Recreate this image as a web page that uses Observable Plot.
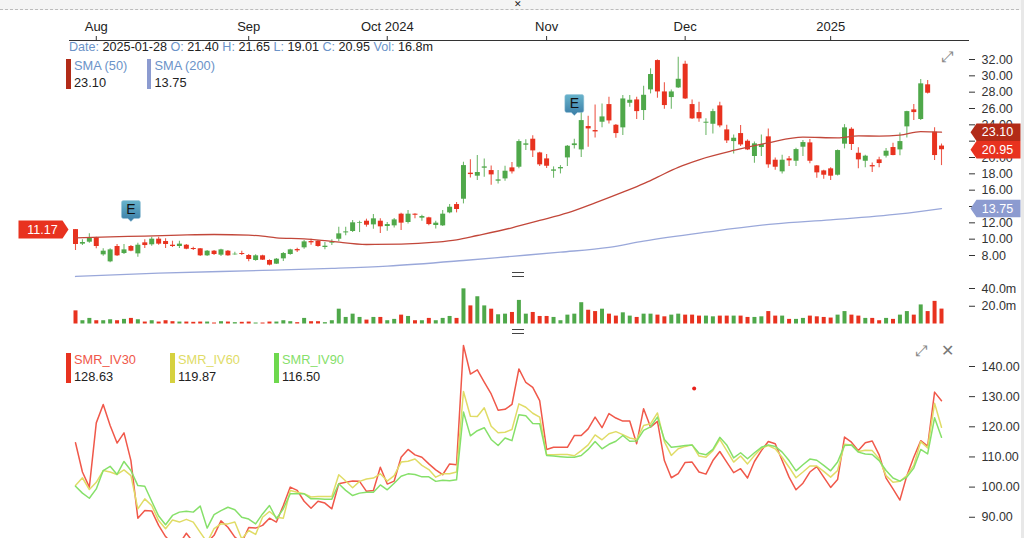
<!DOCTYPE html>
<html><head><meta charset="utf-8">
<script src="https://cdn.jsdelivr.net/npm/d3@7"></script>
<script src="https://cdn.jsdelivr.net/npm/@observablehq/plot@0.6"></script>
<style>
html,body{margin:0;padding:0;background:#fff;overflow:hidden;width:1024px;height:538px;font-family:"Liberation Sans",Arial,sans-serif}
#page{position:relative;width:1024px;height:538px;overflow:hidden}
#page svg{position:absolute;left:0;background:transparent}
.t{position:absolute;white-space:pre;line-height:1;transform:translateY(-50%)}
.b{position:absolute}
</style></head><body><div id="page"></div>
<script>
const tickIdx=[3,25,45,68,88,109];
const tickLabels=["Aug","Sep","Oct 2024","Nov","Dec","2025"];
const open=[11.17,9.39,9.63,10.16,8.08,7.22,9.10,8.24,9.10,8.20,9.55,9.31,10.00,9.71,9.26,9.10,9.26,8.86,8.82,7.96,8.53,8.04,8.53,8.08,8.24,8.00,7.39,7.96,7.39,6.94,7.59,8.12,8.73,8.94,9.71,9.75,8.98,9.51,9.99,10.77,10.94,11.96,12.20,11.75,12.20,11.55,11.63,13.06,12.04,13.06,12.57,12.61,11.67,11.63,13.22,14.24,14.89,18.08,17.71,18.69,18.40,17.10,17.38,18.73,18.81,21.50,22.24,20.56,19.83,18.32,18.61,19.95,21.46,20.93,23.79,23.30,24.32,26.48,23.95,23.63,26.64,27.05,25.75,28.28,31.87,28.03,27.34,28.52,31.42,26.48,25.50,24.20,24.07,26.32,23.38,21.95,22.93,21.99,20.12,21.22,22.53,19.67,18.24,19.83,19.54,21.26,21.79,18.97,18.36,18.61,17.83,21.63,23.46,20.52,19.54,19.01,19.71,20.16,21.22,20.93,23.75,25.83,24.65,28.90,23.10,21.40];
const high=[11.17,9.92,10.65,10.24,8.82,8.82,9.35,9.35,9.22,9.51,9.92,10.24,10.24,10.04,9.75,9.75,9.35,9.02,8.86,8.61,8.61,8.77,8.61,8.41,8.53,8.12,8.08,8.04,7.47,7.63,8.37,8.77,8.90,9.84,10.00,9.84,9.59,9.92,11.47,11.47,12.28,12.20,12.45,13.02,12.49,12.04,12.53,13.18,13.51,13.10,12.93,12.69,12.20,13.51,14.24,14.49,19.42,19.71,20.24,19.83,18.97,18.40,18.93,19.38,22.16,22.16,22.65,20.65,20.36,18.85,19.01,21.46,22.24,25.54,25.05,26.44,26.56,27.38,24.03,27.58,27.58,27.38,28.73,30.86,31.95,29.14,28.28,32.28,31.79,27.05,26.77,24.73,25.91,26.77,23.95,22.77,23.91,22.16,21.91,22.77,23.50,19.95,20.28,20.12,21.14,22.08,22.20,19.01,18.44,18.73,20.93,24.03,23.63,21.18,20.28,19.34,20.03,21.10,21.75,23.01,25.66,26.48,29.55,29.43,23.63,21.65];
const low=[8.61,9.22,9.51,8.82,7.92,7.10,7.88,8.12,8.45,7.80,8.86,9.14,9.26,8.86,8.98,8.86,8.69,8.61,7.88,7.88,8.00,7.88,7.92,8.04,8.00,7.22,7.31,7.39,6.73,6.90,7.26,8.04,8.37,8.77,9.26,9.02,8.69,9.22,9.71,10.41,10.81,10.81,11.47,11.22,10.69,10.98,11.38,11.06,11.87,12.49,12.20,11.63,11.26,11.55,13.10,13.22,14.32,17.50,17.18,17.59,16.61,16.77,17.10,17.99,18.61,20.85,20.00,18.89,18.65,17.46,17.99,18.89,21.05,20.00,21.26,22.40,23.63,24.11,22.36,22.69,26.15,24.64,24.52,27.79,27.26,25.91,25.91,28.44,27.09,24.64,24.32,22.69,22.89,23.63,21.71,20.44,21.34,20.85,19.30,20.12,18.69,18.44,17.99,18.89,18.89,20.12,19.22,17.46,17.34,17.18,17.75,21.05,20.85,18.61,18.73,18.16,18.73,19.95,20.20,20.20,22.40,24.52,24.52,27.79,19.63,19.01];
const close=[9.35,9.59,10.16,9.10,8.53,8.69,7.96,8.69,8.53,9.26,9.22,10.00,9.39,9.35,9.10,9.39,8.77,8.73,7.96,8.53,8.12,8.69,7.96,8.16,8.12,7.51,7.96,7.43,6.82,7.55,8.24,8.69,8.57,9.67,9.55,9.10,9.14,9.63,10.65,10.89,12.00,12.04,11.71,12.49,11.51,11.79,12.36,11.96,13.06,12.93,12.77,11.79,11.96,13.06,13.91,13.63,19.01,17.91,18.16,18.85,17.87,17.26,18.32,18.24,21.95,21.67,20.81,19.10,18.93,18.48,18.77,21.38,21.67,24.52,23.50,23.13,24.97,24.48,22.93,27.17,27.01,25.62,27.62,30.16,28.03,26.36,28.03,29.58,27.17,24.73,24.73,24.32,25.62,23.87,22.03,22.36,21.54,20.93,21.67,21.59,19.10,18.81,19.67,19.59,20.97,21.83,19.54,18.12,17.83,17.71,20.85,23.63,21.59,19.71,20.16,18.85,19.26,20.77,20.24,21.95,25.62,25.50,29.02,27.87,20.24,20.95];
const volume=[14.8,3.7,6.3,3.7,3.7,4.8,3.7,5.2,6.3,4.8,2.2,3.7,2.2,3.7,2.6,2.2,2.2,1.9,2.2,2.2,1.1,2.6,2.2,1.5,1.9,2.2,1.1,1.1,2.2,2.2,3.7,2.6,1.5,6.3,2.6,2.6,1.5,3.7,16.7,7.4,11.1,7.4,4.4,7.4,7.4,3.7,5.2,10.0,8.5,3.7,3.7,6.3,3.7,6.3,8.5,6.3,39.6,20.4,30.7,20.4,16.7,10.4,11.1,13.0,26.6,11.1,13.0,8.5,8.5,7.4,3.7,10.0,11.1,24.0,15.5,14.0,16.7,11.1,8.9,12.6,8.9,7.4,11.1,11.1,10.0,8.1,10.0,11.1,10.0,10.0,8.9,8.9,8.1,8.9,8.9,8.9,8.9,7.4,7.4,8.1,14.0,8.9,8.9,5.2,5.2,6.3,8.9,8.1,7.4,6.7,10.0,14.0,10.0,8.9,6.3,6.3,3.7,6.3,5.2,10.0,14.0,10.0,21.5,14.0,25.5,16.8];
const sma50Idx=[0,5,10,15,20,25,27,29,33,37,42,47,52,55,58,63,67,71,75,79,82,84,87,90,95,100,105,110,113,116,119,122,125];
const sma50=[10.16,10.29,10.37,10.49,10.57,10.49,10.37,10.16,10.04,9.72,9.35,9.39,9.63,9.92,10.45,11.39,12.29,13.22,14.45,15.76,16.80,17.60,18.80,19.72,20.86,21.80,22.49,22.41,22.65,22.61,22.73,23.18,23.10];
const sma200Idx=[0,12,27,37,45,56,63,70,77,82,91,101,109,119,125];
const sma200=[5.43,5.84,6.17,6.42,6.70,7.39,7.90,8.41,9.00,9.76,10.85,11.88,12.37,13.10,13.75];
const iv30=[114.7,105.0,100.0,121.3,127.4,120.4,114.6,118.0,108.8,89.7,92.2,92.1,87.3,83.6,81.2,81.2,84.7,81.7,82.8,81.7,84.0,88.8,86.7,83.4,81.7,86.6,86.4,87.3,89.7,88.4,93.9,100.0,98.9,95.3,93.0,95.3,94.7,92.8,101.1,101.6,102.0,101.9,98.6,98.9,106.6,101.0,102.0,109.9,112.5,110.7,109.9,107.7,105.7,104.1,107.7,107.4,147.0,137.5,138.9,134.8,130.9,125.5,125.8,127.4,139.2,134.7,133.1,128.7,112.5,113.2,113.2,113.2,117.1,117.1,119.3,123.2,119.7,124.4,122.9,121.9,121.9,114.4,126.0,119.9,121.8,108.8,103.1,104.5,108.2,108.3,105.0,104.3,108.8,111.8,108.3,104.8,106.1,103.0,108.5,112.1,115.1,114.4,108.8,103.3,99.1,101.3,105.0,106.8,103.3,99.9,102.5,116.6,114.9,112.1,114.7,115.3,110.7,103.0,99.4,95.7,103.8,109.9,115.4,113.6,131.5,128.63];
const iv60=[100.5,103.1,99.2,101.6,105.5,105.0,104.2,105.7,103.8,92.8,96.1,93.9,88.9,86.2,89.1,88.4,89.3,88.4,85.0,81.7,86.2,87.8,87.8,88.4,82.8,85.6,84.3,90.0,91.9,90.0,89.7,98.9,98.3,97.8,96.7,96.9,96.9,96.9,104.1,102.0,99.8,101.9,102.7,103.0,104.4,102.0,103.8,108.3,108.6,109.3,107.2,105.8,103.3,104.4,104.4,105.0,131.7,123.5,123.4,126.3,120.2,118.0,118.2,119.1,127.6,126.5,124.5,123.2,110.8,110.7,110.8,110.8,110.4,112.1,114.0,117.3,115.7,117.7,118.4,117.4,116.3,115.8,120.4,121.0,124.6,115.1,110.5,112.7,113.5,114.0,110.3,109.9,112.1,115.8,112.1,108.3,110.3,107.7,110.5,112.9,113.8,112.7,109.9,106.6,103.1,105.0,107.0,107.0,105.2,103.3,105.5,114.2,114.0,111.8,112.2,112.1,109.4,103.8,101.6,101.9,103.8,107.2,115.1,113.0,127.8,119.87];
const iv90=[100.3,98.0,96.3,99.4,105.5,106.9,104.2,108.5,105.5,100.5,100.3,95.3,90.4,87.5,90.6,91.7,92.0,91.7,93.7,86.4,90.9,92.2,93.3,92.5,90.0,89.4,87.8,91.1,93.9,89.5,92.8,97.8,97.8,97.8,96.1,96.1,96.0,96.0,101.1,98.9,97.2,98.0,98.3,98.3,100.7,99.1,101.3,103.6,104.4,104.2,103.4,103.4,101.9,102.3,102.1,102.4,124.9,117.0,118.7,119.7,115.8,113.8,116.3,115.4,124.0,123.7,121.1,121.0,110.5,110.3,110.1,109.9,109.9,110.5,112.5,115.1,112.7,114.2,115.2,117.1,115.2,115.3,118.8,120.0,123.2,115.8,113.2,113.5,113.8,114.0,111.2,110.7,112.5,116.5,114.0,109.7,111.4,109.4,111.4,113.2,114.0,113.5,111.6,108.8,105.4,107.4,109.3,108.9,107.2,105.4,108.3,113.8,114.0,111.6,111.0,110.8,108.8,105.5,103.0,102.0,103.3,106.3,112.5,111.0,123.0,116.50];
const priceTicks=[8,10,12,14,16,18,20,22,24,26,28,30,32];
const volTicks=[20,40];
const ivTicks=[90,100,110,120,130,140];
const earningsIdx=[8,72];
const earningsPrice=[12.16,25.14];
const strayIdx=[89.3];
const strayValue=[132.7];

const UP="#4fa84a",DOWN="#e8321f",SMA50="#c2473a",SMA200="#9aa8da",
      TAG50="#b22b18",TAG200="#8c9bd0",IVR="#f0584a",IVY="#e0dc66",IVG="#86e06a";

const candles=open.map((o,i)=>({i,open:o,high:high[i],low:low[i],close:close[i],vol:volume[i],dir:close[i]>=o?"up":"down"}));
const series=(idx,vals)=>vals.map((v,k)=>({i:idx?idx[k]:k,v}));
const xScale={domain:[0,125],range:[75,941]};
const colorScale={domain:["up","down"],range:[UP,DOWN]};
const base={width:1024,marginLeft:69,marginRight:56,marginBottom:0,
  style:{fontFamily:"'Liberation Sans',Arial,sans-serif",fontSize:"12.5px",color:"#333",background:"transparent",overflow:"visible"}};

const tagSym=(w,h)=>({draw(c){c.moveTo(2,0);c.lineTo(8,-h);c.lineTo(w,-h);c.lineTo(w,h);c.lineTo(8,h);c.closePath();}});
const tagSymL={draw(c){c.moveTo(-1,0);c.lineTo(-7,-9);c.lineTo(-51,-9);c.lineTo(-51,9);c.lineTo(-7,9);c.closePath();}};
const eSym={draw(c){c.moveTo(0,0);c.lineTo(-3,-3);c.lineTo(-8,-3);c.arcTo(-9.5,-3,-9.5,-5,2);c.lineTo(-9.5,-19);c.arcTo(-9.5,-21,-8,-21,2);c.lineTo(8,-21);c.arcTo(9.5,-21,9.5,-19,2);c.lineTo(9.5,-5);c.arcTo(9.5,-3,8,-3,2);c.lineTo(3,-3);c.closePath();}};
const tag=(v,col)=>[
  Plot.dot([v],{y:d=>d,frameAnchor:"right",r:9,symbol:tagSym(52,8.8),fill:col,stroke:"none"}),
  Plot.text([v],{y:d=>d,frameAnchor:"right",dx:29,text:d=>d.toFixed(2),textAnchor:"middle",fill:"#fff",fontSize:12.5})
];

// price panel
const pricePlot=Plot.plot({...base,height:270,marginTop:40,
  x:xScale,y:{domain:[8,32],range:[255,59]},color:colorScale,
  marks:[
    Plot.frame({anchor:"top",stroke:"#333"}),
    Plot.axisX({anchor:"top",ticks:tickIdx,tickFormat:d=>tickLabels[tickIdx.indexOf(d)],tickSize:5,tickPadding:5,fontSize:13,label:null,fill:"#222"}),
    Plot.axisY({anchor:"right",ticks:priceTicks,tickFormat:d=>d.toFixed(2),tickSize:6,tickPadding:7,label:null}),
    Plot.ruleX(candles,{x:"i",y1:"low",y2:"high",stroke:"dir",strokeWidth:1.1,strokeOpacity:.8}),
    Plot.ruleX(candles,{x:"i",y1:"open",y2:"close",stroke:"dir",strokeWidth:5}),
    Plot.line(series(sma200Idx,sma200),{x:"i",y:"v",stroke:SMA200,strokeWidth:1.3,curve:"monotone-x"}),
    Plot.line(series(sma50Idx,sma50),{x:"i",y:"v",stroke:SMA50,strokeWidth:1.3,curve:"monotone-x"}),
    Plot.dot(earningsIdx.map((e,k)=>({i:e,p:earningsPrice[k]})),{x:"i",y:"p",r:9,symbol:eSym,fill:"url(#eg)",stroke:"#9cc7da",strokeWidth:.5}),
    Plot.text(earningsIdx.map((e,k)=>({i:e,p:earningsPrice[k]})),{x:"i",y:"p",dy:-12,text:()=>"E",fill:"#111",fontSize:14}),
    Plot.dot([open[0]],{y:d=>d,frameAnchor:"left",r:9,symbol:tagSymL,fill:DOWN,stroke:"none"}),
    Plot.text([open[0]],{y:d=>d,frameAnchor:"left",dx:-27,text:d=>d.toFixed(2),textAnchor:"middle",fill:"#fff",fontSize:12.5}),
    ...tag(sma200[sma200.length-1],TAG200),
    ...tag(sma50[sma50.length-1],TAG50),
    ...tag(close[close.length-1],DOWN)
  ]});
pricePlot.style.top="0px";
d3.select(pricePlot).append("defs").append("linearGradient").attr("id","eg").attr("x1",0).attr("x2",0).attr("y1",0).attr("y2",1)
  .selectAll("stop").data([["0%","#68b4cc"],["100%","#3a7ca6"]]).join("stop").attr("offset",d=>d[0]).attr("stop-color",d=>d[1]);

// volume panel (top 280)
const volPlot=Plot.plot({...base,height:50,marginTop:0,
  x:{...xScale,axis:null},y:{domain:[0,40],range:[43.5,8]},color:colorScale,
  marks:[
    Plot.axisY({anchor:"right",ticks:volTicks,tickFormat:d=>d.toFixed(1)+"m",tickSize:6,tickPadding:7,label:null}),
    Plot.ruleX(candles,{x:"i",y1:0,y2:"vol",stroke:"dir",strokeWidth:4})
  ]});
volPlot.style.top="280px";

// IV panel (top 338)
const iv=(arr,col)=>Plot.line(series(null,arr),{x:"i",y:"v",stroke:col,strokeWidth:1.5});
const ivPlot=Plot.plot({...base,height:200,marginTop:0,
  x:{...xScale,axis:null},y:{domain:[90,140],range:[178.75,28]},
  marks:[
    Plot.axisY({anchor:"right",ticks:ivTicks,tickFormat:d=>d.toFixed(2),tickSize:6,tickPadding:7,label:null}),
    iv(iv30,IVR),iv(iv60,IVY),iv(iv90,IVG),
    Plot.dot(strayIdx.map((e,k)=>({i:e,v:strayValue[k]})),{x:"i",y:"v",r:2,fill:"#e8201a"})
  ]});
ivPlot.style.top="338px";

const page=document.getElementById("page");
page.append(pricePlot,volPlot,ivPlot);

// chrome and legends
const txt=(x,y,s,col,size)=>{const e=document.createElement("div");e.className="t";e.textContent=s;
  e.style.cssText=`left:${x}px;top:${y}px;color:${col};font-size:${size||12.6}px`;page.append(e);return e;};
const box=(x,y,w,h,css)=>{const e=document.createElement("div");e.className="b";
  e.style.cssText=`left:${x}px;top:${y}px;width:${w}px;height:${h}px;${css}`;page.append(e);return e;};
box(0,0,1024,10,"background:#f4f4f4;border-bottom:1px dashed #bbb;box-sizing:border-box");
txt(514,4,"✕","#222",9);
box(1021,0,3,538,"background:#e8e8e8");
box(512,272,12,5,"border-top:1.3px solid #444;border-bottom:1.3px solid #444;box-sizing:border-box");
box(512,329,12,5,"border-top:1.3px solid #444;border-bottom:1.3px solid #444;box-sizing:border-box");

const BL="#6b93c8",DK="#222";
const hdr=document.createElement("div");hdr.className="t";hdr.style.cssText="left:69px;top:47px;font-size:12.6px;color:"+DK;
[["Date:","2025-01-28"],["O:","21.40"],["H:","21.65"],["L:","19.01"],["C:","20.95"],["Vol:","16.8m"]].forEach(([a,b],k)=>{
  const s=document.createElement("span");s.style.color=BL;s.textContent=(k?" ":"")+a+" ";hdr.append(s);
  const v=document.createElement("span");v.textContent=b;hdr.append(v);});
page.append(hdr);

const leg=(x,y,name,val,barCol,txtCol)=>{box(x,y,4.5,30,"background:"+barCol);txt(x+8,y+6.5,name,txtCol,12.8);txt(x+8,y+23.5,val,DK,12.8);};
leg(66,59,"SMA (50)","23.10",TAG50,BL);
leg(146.5,59,"SMA (200)","13.75",TAG200,BL);
leg(66,353,"SMR_IV30","128.63","#e8321f",IVR);
leg(170,353,"SMR_IV60","119.87","#d6d13f",IVY);
leg(274,353,"SMR_IV90","116.50","#6ed84e",IVG);
txt(941,57,"⤢","#888",15).style.fontFamily="DejaVu Sans";
txt(915,351,"⤢","#888",15).style.fontFamily="DejaVu Sans";
txt(941,351,"✕","#777",16).style.fontFamily="DejaVu Sans";
</script></body></html>
